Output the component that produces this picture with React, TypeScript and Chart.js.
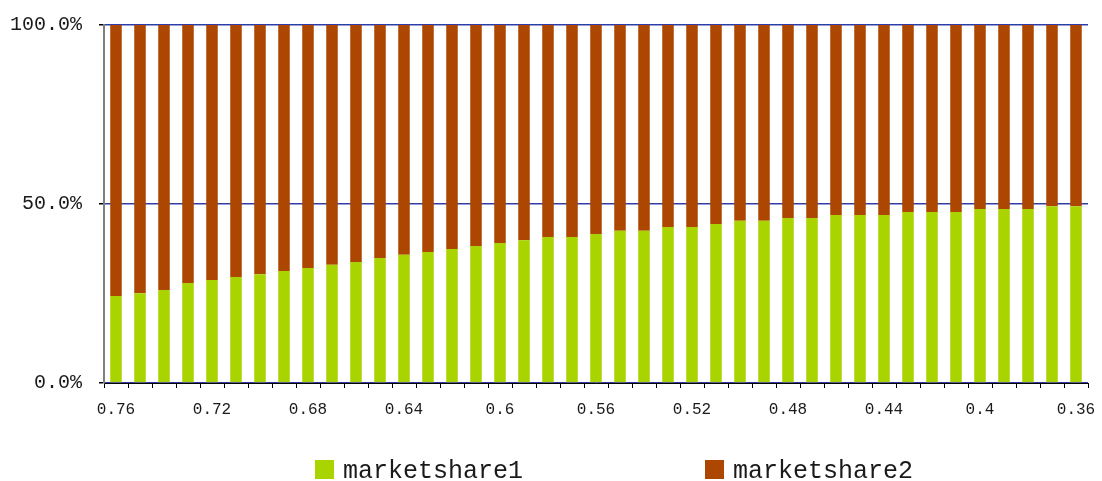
import React, { useEffect, useRef } from "react";
import { Chart, registerables } from "chart.js";

Chart.register(...registerables);

// Threshold values along the x axis
const categories: string[] = [
  "0.76", "0.75", "0.74", "0.73", "0.72", "0.71", "0.7", "0.69", "0.68", "0.67",
  "0.66", "0.65", "0.64", "0.63", "0.62", "0.61", "0.6", "0.59", "0.58", "0.57",
  "0.56", "0.55", "0.54", "0.53", "0.52", "0.51", "0.5", "0.49", "0.48", "0.47",
  "0.46", "0.45", "0.44", "0.43", "0.42", "0.41", "0.4", "0.39", "0.38", "0.37",
  "0.36",
];

// Share of the first competitor (%)
const marketshare1: number[] = [
  24.3, 25.1, 26.0, 27.9, 28.8, 29.6, 30.4, 31.3, 32.1, 33.0,
  33.8, 34.9, 35.8, 36.6, 37.4, 38.3, 39.1, 39.9, 40.8, 40.8,
  41.6, 42.5, 42.5, 43.6, 43.6, 44.4, 45.3, 45.3, 46.1, 46.1,
  46.9, 46.9, 46.9, 47.8, 47.8, 47.8, 48.6, 48.6, 48.6, 49.4,
  49.4,
];

// Share of the second competitor (%)
const marketshare2: number[] = [
  75.7, 74.9, 74.0, 72.1, 71.2, 70.4, 69.6, 68.7, 67.9, 67.0,
  66.2, 65.1, 64.2, 63.4, 62.6, 61.7, 60.9, 60.1, 59.2, 59.2,
  58.4, 57.5, 57.5, 56.4, 56.4, 55.6, 54.7, 54.7, 53.9, 53.9,
  53.1, 53.1, 53.1, 52.2, 52.2, 52.2, 51.4, 51.4, 51.4, 50.6,
  50.6,
];

// Y axis tick values
const yTicks: number[] = [0, 50, 100];

const GREEN = "#aad400";
const BROWN = "#ac4600";
const FONT = "'Liberation Mono', 'DejaVu Sans Mono', monospace";

const seriesNames = ["marketshare1", "marketshare2"];
const seriesColors = [GREEN, BROWN];

// Legend drawn under the plot, two widely spaced entries
const bottomLegend = {
  id: "bottomLegend",
  afterDraw(chart: any) {
    const ctx = chart.ctx as CanvasRenderingContext2D;
    const starts = [315, 705];
    ctx.save();
    ctx.font = `25px ${FONT}`;
    ctx.textBaseline = "alphabetic";
    ctx.textAlign = "left";
    seriesNames.forEach((name, i) => {
      const x = starts[i];
      ctx.fillStyle = seriesColors[i];
      ctx.fillRect(x, 460, 19, 19);
      ctx.fillStyle = "#1a1a1a";
      ctx.fillText(name, x + 28, 478);
    });
    ctx.restore();
  },
};

export default function App() {
  const canvasRef = useRef<HTMLCanvasElement | null>(null);

  useEffect(() => {
    if (!canvasRef.current) return;
    const chart = new Chart(canvasRef.current, {
      type: "bar",
      data: {
        labels: categories,
        datasets: [
          {
            label: seriesNames[0],
            data: marketshare1,
            backgroundColor: GREEN,
            barPercentage: 0.48,
            categoryPercentage: 1,
          },
          {
            label: seriesNames[1],
            data: marketshare2,
            backgroundColor: BROWN,
            barPercentage: 0.48,
            categoryPercentage: 1,
          },
        ],
      },
      options: {
        animation: false,
        responsive: false,
        devicePixelRatio: 1,
        layout: { padding: { top: 25, right: 14, left: 0, bottom: 0 } },
        plugins: {
          legend: { display: false },
          tooltip: { enabled: false },
        },
        scales: {
          x: {
            stacked: true,
            offset: true,
            grid: {
              offset: true,
              drawOnChartArea: false,
              drawTicks: true,
              tickLength: 5,
              tickColor: "#000000",
            },
            border: { color: "#000000", width: 1 },
            ticks: {
              autoSkip: false,
              maxRotation: 0,
              minRotation: 0,
              padding: 12,
              color: "#1a1a1a",
              font: { family: FONT, size: 16 },
              callback: (_v: any, i: number) => (i % 4 === 0 ? categories[i] : ""),
            },
            afterFit: (scale: any) => {
              scale.height = 98;
              scale.paddingLeft = 0;
              scale.paddingRight = 0;
            },
          },
          y: {
            stacked: true,
            min: 0,
            max: 100,
            afterBuildTicks: (scale: any) => {
              scale.ticks = yTicks.map((v) => ({ value: v }));
            },
            grid: {
              color: "#2f3ea6",
              lineWidth: 1.5,
              drawTicks: true,
              tickLength: 5,
              tickColor: "#000000",
            },
            border: { color: "#808080", width: 2 },
            ticks: {
              padding: 17,
              color: "#1a1a1a",
              font: { family: FONT, size: 20 },
              callback: (v: any) => `${Number(v).toFixed(1)}%`,
            },
            afterFit: (scale: any) => {
              scale.width = 104;
              scale.paddingTop = 0;
              scale.paddingBottom = 0;
            },
          },
        },
      },
      plugins: [bottomLegend],
    });
    return () => chart.destroy();
  }, []);

  return (
    <div style={{ position: "fixed", left: 0, top: 0, width: 1102, height: 481, background: "#ffffff" }}>
      <canvas ref={canvasRef} width={1102} height={481} />
    </div>
  );
}
